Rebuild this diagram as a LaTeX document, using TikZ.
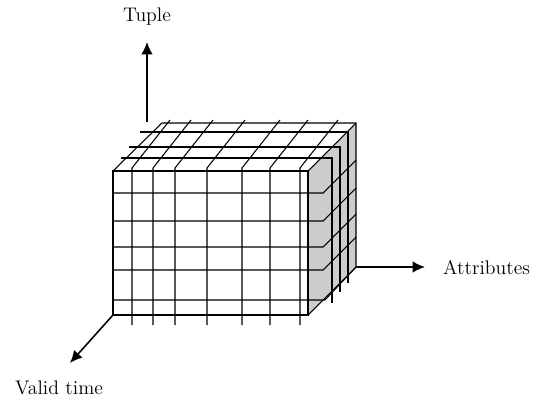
\documentclass[tikz,border=0pt]{standalone}
\usepackage{xcolor}
\usepackage{tikz}
\usetikzlibrary{arrows.meta}

\definecolor{sidegray}{RGB}{204,204,204}

\begin{document}
\begin{tikzpicture}[
  x=0.02cm, y=-0.02cm,
  edge/.style={draw=black, line width=0.6pt},
  grid/.style={draw=black, line width=0.6pt},
  axis/.style={-{Latex[length=7pt, width=6.5pt]}, line width=0.9pt},
  lbl/.style={font=\fontsize{11.2}{13}\selectfont, inner sep=1pt}
]
\useasboundingbox (0,0) rectangle (534,402);

% Cube corners (front face, then back)
\coordinate (ftl) at (113,171);
\coordinate (ftr) at (308,171);
\coordinate (fbr) at (308,315);
\coordinate (fbl) at (113,315);
\coordinate (btl) at (162,123);
\coordinate (btr) at (356,123);
\coordinate (bbr) at (356,267);

% Side face
\fill[sidegray] (ftr) -- (btr) -- (bbr) -- (fbr) -- cycle;

% Outline
\draw[edge] (ftl) -- (ftr) -- (fbr) -- (fbl) -- cycle;
\draw[edge] (ftl) -- (btl) -- (btr) -- (bbr) -- (fbr);
\draw[edge] (ftr) -- (btr);

% Front verticals, running on over the top
\draw[grid] (132,168) -- (132,325) (132,168) -- (170,120)
            (153,168) -- (153,325) (153,168) -- (191,120)
            (175,168) -- (175,325) (175,168) -- (213,120)
            (207,168) -- (207,325) (207,168) -- (245,120)
            (242,168) -- (242,325) (242,168) -- (280,120)
            (270,168) -- (270,325) (270,168) -- (308,120)
            (300,168) -- (300,325) (300,168) -- (338,120);

% Front horizontals, running on round the side
\draw[grid] (113,193) -- (323,193) -- (356,160)
            (113,221) -- (323,221) -- (356,188)
            (113,247) -- (323,247) -- (356,214)
            (113,270) -- (323,270) -- (356,237)
            (113,300) -- (325,300) -- (356,267);

% Top horizontals, dropping down the side
\draw[grid] (140,132) -- (348,132) -- (348,283)
            (129,147) -- (340,147) -- (340,292)
            (121,158) -- (332,158) -- (332,303);

% Axes
\coordinate (tupbase) at (147,122);
\coordinate (tuptip)  at (147,42);
\coordinate (atttip)  at (425,267);
\coordinate (valtip)  at (70,363);

\draw[axis] (tupbase) -- (tuptip);
\draw[axis] (bbr)     -- (atttip);
\draw[axis] (fbl)     -- (valtip);

% Labels
\node[lbl] at (147,17)               (tuple) {Tuple};
\node[lbl, anchor=west] at (441,268) (attr)  {Attributes};
\node[lbl] at (59,388)               (valid) {Valid time};
\end{tikzpicture}
\end{document}
